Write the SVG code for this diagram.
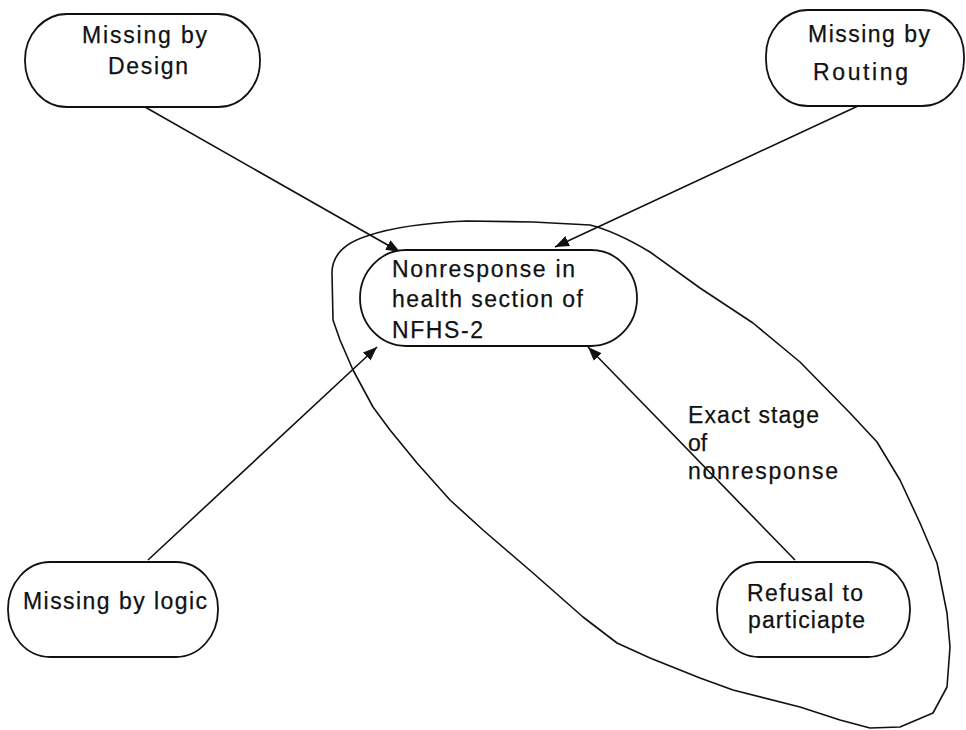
<svg xmlns="http://www.w3.org/2000/svg" width="966" height="730" viewBox="0 0 966 730">
<style>
.box{fill:#fff;stroke:#111;stroke-width:1.8}
.t{font-family:"Liberation Sans",Arial,sans-serif;font-size:23px;fill:#111;stroke:#111;stroke-width:0.25}
.edge{stroke:#111;stroke-width:1.6;fill:none;marker-end:url(#arr)}
.loop{fill:none;stroke:#111;stroke-width:1.6;stroke-linejoin:round}
</style>
<defs>
<marker id="arr" markerUnits="userSpaceOnUse" markerWidth="16" markerHeight="12" refX="14" refY="5.5" orient="auto">
<path d="M0,0 L14,5.5 L0,11 z" fill="#111"/>
</marker>
</defs>
<rect width="966" height="730" fill="#fff"/>
<g id="loop">
<path class="loop" d="M332,273 C332,255 345,243 367,236 C390,228 420,223 467,221 L533,222 L590,225 C610,230 630,240 650,252 L700,288 L753,323 L800,362 L850,413 L877,442 L900,480 L920,523 L937,563 L947,613 L950,647 L947,687 L933,713 L900,727 L870,728 L840,720 L800,707 L733,690 L700,678 L650,658 L617,643 L583,617 L533,573 L483,530 L450,500 L417,463 L390,430 L373,407 L353,370 L340,340 L333,320 Z"/>
</g>
<g id="connectors">
<line class="edge" x1="145" y1="107" x2="400" y2="252"/>
<line class="edge" x1="858" y1="106" x2="555" y2="247"/>
<line class="edge" x1="148" y1="560" x2="377" y2="347"/>
<line class="edge" x1="795" y1="560" x2="588" y2="347"/>
</g>
<g id="design">
<rect class="box" x="25" y="14" width="235" height="93" rx="42" ry="46"/>
<text class="t" x="82" y="43" textLength="125" lengthAdjust="spacing">Missing by</text>
<text class="t" x="108" y="74" textLength="80" lengthAdjust="spacing">Design</text>
</g>
<g id="routing">
<rect class="box" x="766" y="10" width="198" height="96" rx="42" ry="46"/>
<text class="t" x="808" y="42" textLength="122" lengthAdjust="spacing">Missing by</text>
<text class="t" x="813" y="80" textLength="95" lengthAdjust="spacing">Routing</text>
</g>
<g id="nonresponse">
<rect class="box" x="360" y="250" width="277" height="96" rx="46" ry="48"/>
<text class="t" x="392" y="277" textLength="183" lengthAdjust="spacing">Nonresponse in</text>
<text class="t" x="392" y="307" textLength="191" lengthAdjust="spacing">health section of</text>
<text class="t" x="392" y="338" textLength="91" lengthAdjust="spacing">NFHS-2</text>
</g>
<g id="logic">
<rect class="box" x="8" y="562" width="210" height="95" rx="42" ry="47"/>
<text class="t" x="23" y="609" textLength="184" lengthAdjust="spacing">Missing by logic</text>
</g>
<g id="refusal">
<rect class="box" x="717" y="562" width="193" height="95" rx="42" ry="47"/>
<text class="t" x="747" y="601" textLength="116" lengthAdjust="spacing">Refusal to</text>
<text class="t" x="748" y="628" textLength="117" lengthAdjust="spacing">particiapte</text>
</g>
<g id="edge-label">
<text class="t" x="688" y="423" textLength="131" lengthAdjust="spacing">Exact stage</text>
<text class="t" x="688" y="451">of</text>
<text class="t" x="688" y="479" textLength="150" lengthAdjust="spacing">nonresponse</text>
</g>
</svg>
